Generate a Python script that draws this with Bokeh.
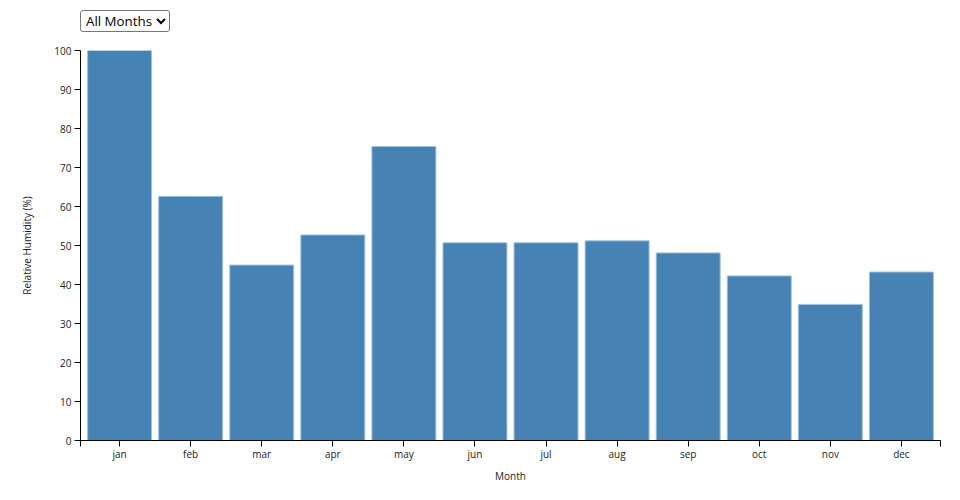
from bokeh.plotting import figure
from bokeh.models import (ColumnDataSource, Range1d, FixedTicker, Select,
                          InlineStyleSheet)
from bokeh.layouts import column
from bokeh.embed import file_html
from bokeh.resources import INLINE

months = ["jan", "feb", "mar", "apr", "may", "jun",
          "jul", "aug", "sep", "oct", "nov", "dec"]
humidity = [100.0, 62.6, 45.0, 52.7, 75.4, 50.7,
            50.7, 51.2, 48.1, 42.2, 34.9, 43.2]
y_ticks = [0, 10, 20, 30, 40, 50, 60, 70, 80, 90, 100]

FONT = "Open Sans"
n = len(months)
pad = 0.05  # outer band padding (in band-step units)
xs = [i + 0.5 for i in range(n)]
source = ColumnDataSource(data=dict(x=xs, top=humidity, month=months))

p = figure(width=952, height=460, output_backend="svg", toolbar_location=None,
           x_range=Range1d(-pad, n + pad), y_range=Range1d(0, 100),
           min_border_left=80, min_border_right=12, min_border_top=18,
           min_border_bottom=52)
p.outline_line_color = None
p.grid.visible = False
p.background_fill_color = "white"
p.border_fill_color = "white"

p.vbar(x="x", top="top", bottom=0, width=0.9, source=source,
       fill_color="#4682b4", line_color="#a3c2dd", line_width=1)

for ax in (p.xaxis[0], p.yaxis[0]):
    ax.axis_line_color = "black"
    ax.axis_line_width = 1
    ax.major_tick_line_color = "black"
    ax.major_tick_out = 6
    ax.major_tick_in = 0
    ax.minor_tick_line_color = None
    ax.major_label_text_font = FONT
    ax.major_label_text_font_size = "10px"
    ax.major_label_text_color = "#222"
    ax.major_label_standoff = 3
    ax.axis_label_text_font = FONT
    ax.axis_label_text_font_size = "10px"
    ax.axis_label_text_font_style = "normal"
    ax.axis_label_text_color = "#222"

xticks = [-pad] + xs + [n + pad]
p.xaxis.ticker = FixedTicker(ticks=xticks)
overrides = {x: m for x, m in zip(xs, months)}
overrides[-pad] = ""
overrides[n + pad] = ""
p.xaxis.major_label_overrides = overrides
p.xaxis.major_label_standoff = 0
p.xaxis.axis_label = "Month"
p.xaxis.axis_label_standoff = 5

p.yaxis.ticker = FixedTicker(ticks=y_ticks)
p.yaxis.axis_label = "Relative Humidity (%)"
p.yaxis.axis_label_standoff = 17

css = InlineStyleSheet(css="""
label { display: none !important; }
.bk-input-group { padding: 0; }
select, .bk-input {
  font-family: 'Open Sans', sans-serif !important;
  font-size: 13.33px !important;
  color: #000;
  height: 22px !important;
  min-height: 22px !important;
  width: auto !important;
  padding: 0 0 0 1px !important;
  border: 1px solid #767676 !important;
  border-radius: 3px !important;
  -webkit-appearance: auto !important;
  appearance: auto !important;
  background-image: none !important;
  background-color: #fff !important;
  box-shadow: none !important;
}
""")
sel = Select(title="", options=["All Months"] + months, value="All Months",
             width=89, height=22, stylesheets=[css], margin=(10, 0, 0, 80))

layout = column(sel, p, spacing=0)
open("out.html", "w").write(file_html(layout, INLINE))
